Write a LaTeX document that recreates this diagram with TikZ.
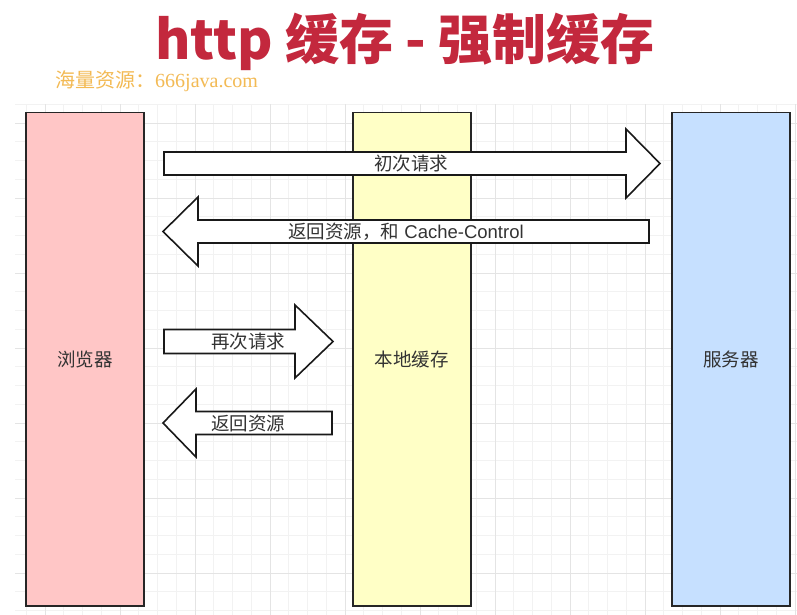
\documentclass[tikz,border=0pt]{standalone}
\usepackage{fontspec}
\setmainfont{Liberation Sans}
\newfontfamily\cjk{Noto Sans CJK SC}
\newfontfamily\serifmark{Liberation Serif}
\usepackage{xcolor}
\usetikzlibrary{positioning}

\definecolor{titlered}{RGB}{195,40,61}
\definecolor{markorange}{RGB}{243,186,84}
\definecolor{gridminor}{RGB}{242,242,242}
\definecolor{gridmajor}{RGB}{228,228,228}
\definecolor{lanepink}{RGB}{255,198,198}
\definecolor{laneyellow}{RGB}{255,255,198}
\definecolor{laneblue}{RGB}{198,224,255}
\newcommand\lblfont{\fontsize{18.5}{21}\selectfont}

\begin{document}
\begin{tikzpicture}[
  x=1pt, y=-1pt,
  lane/.style={draw=black!85, line width=1.5pt, anchor=north west, inner sep=0pt,
    minimum width=118pt, minimum height=493pt, font=\lblfont, text=black!80},
  blockarrow/.style={draw=black!90, fill=white, line width=1.6pt, line join=miter},
  lbl/.style={font=\lblfont, text=black!80, inner sep=0pt}
]
\useasboundingbox[fill=white] (0,0) rectangle (797,615);

% grid
\begin{scope}
  \clip (15,104.25) rectangle (797,615);
  \foreach \k in {0,...,42} {
    \draw[gridminor, line width=0.9pt] (26.25+18.75*\k,104.25) -- (26.25+18.75*\k,615);
  }
  \foreach \k in {0,...,27} {
    \draw[gridminor, line width=0.9pt] (15,104.25+18.75*\k) -- (797,104.25+18.75*\k);
  }
  \foreach \k in {0,...,10} {
    \draw[gridmajor, line width=0.9pt] (45+75*\k,104.25) -- (45+75*\k,615);
  }
  \foreach \k in {0,...,6} {
    \draw[gridmajor, line width=0.9pt] (15,123+75*\k) -- (797,123+75*\k);
  }
\end{scope}

% title and watermark
\node[font=\fontsize{54}{60}\selectfont\cjk\bfseries, text=titlered] (title) at (405,42) {http 缓存 - 强制缓存};
\node[anchor=west, inner sep=0pt, text=markorange, font=\fontsize{20}{22}\selectfont] (mark) at (55,81) {{\cjk 海量资源：}\serifmark 666java.com};

% lanes
\node[lane, fill=lanepink] (browser) at (25,112) {\cjk 浏览器};
\node[lane, fill=laneyellow] (cache) at (352,112) {\cjk 本地缓存};
\node[lane, fill=laneblue] (server) at (671,112) {\cjk 服务器};

% block arrows
\draw[blockarrow] (164,152) -- (626,152) -- (626,129) -- (660,163.5) -- (626,198)
  -- (626,175) -- (164,175) -- cycle;
\node[lbl] (first) at (411,164) {\cjk 初次请求};

\draw[blockarrow] (649,220) -- (198,220) -- (198,197) -- (163,231.5) -- (198,266)
  -- (198,243) -- (649,243) -- cycle;
\node[lbl] (reply) at (406,232) {{\cjk 返回资源，和} Cache-Control};

\draw[blockarrow] (164,329.5) -- (295,329.5) -- (295,305) -- (333,341.5) -- (295,378)
  -- (295,353.5) -- (164,353.5) -- cycle;
\node[lbl] (again) at (248,342) {\cjk 再次请求};

\draw[blockarrow] (332,411.5) -- (196,411.5) -- (196,389) -- (163,423) -- (196,457)
  -- (196,434.5) -- (332,434.5) -- cycle;
\node[lbl] (local) at (248,424) {\cjk 返回资源};
\end{tikzpicture}
\end{document}
